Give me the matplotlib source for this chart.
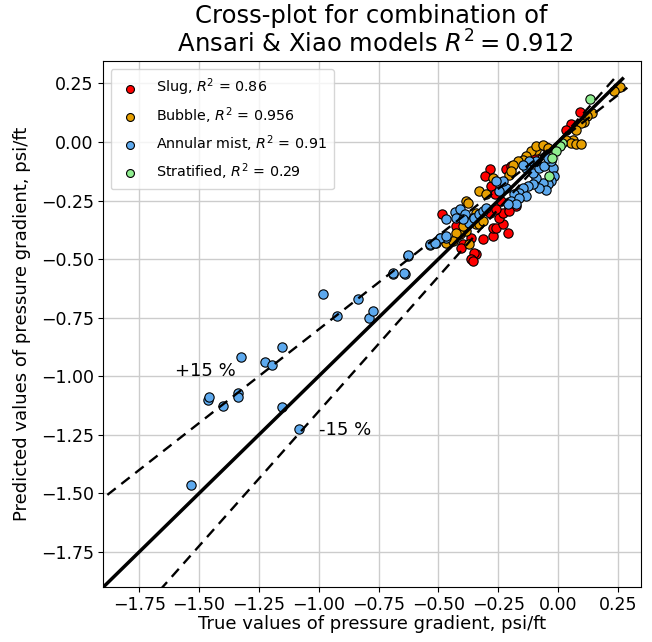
import matplotlib
matplotlib.use("Agg")
import matplotlib.pyplot as plt
import numpy as np

# ---------------- data (true, predicted) ----------------
slug_true = [0.093, 0.054, 0.033, -0.286, -0.303, -0.217, -0.196, -0.279, -0.265, -0.238,
             -0.203, -0.175, -0.483, -0.404, -0.425, -0.386, -0.398, -0.404, -0.363, -0.314,
             -0.273, -0.273, -0.258, -0.231, -0.210, -0.245, -0.231, -0.203, -0.342, -0.349,
             -0.363, -0.356, -0.286, -0.258, -0.05, -0.10]
slug_pred = [0.128, 0.077, 0.053, -0.117, -0.146, -0.117, -0.103, -0.189, -0.224, -0.252,
             -0.281, -0.274, -0.306, -0.373, -0.359, -0.359, -0.437, -0.451, -0.409, -0.415,
             -0.401, -0.366, -0.366, -0.352, -0.387, -0.324, -0.302, -0.295, -0.479, -0.472,
             -0.500, -0.509, -0.302, -0.288, -0.02, -0.05]

bubble_true = [0.248, 0.258, 0.235, 0.144, 0.123, 0.110, 0.096, 0.075, 0.061, 0.033,
               0.054, 0.075, 0.096, -0.092, -0.113, -0.133, -0.148, -0.168, -0.189, -0.203,
               -0.092, -0.064, -0.043, -0.196, -0.273, -0.328, -0.383, -0.300, -0.377, -0.342,
               -0.356, -0.342, -0.383, -0.411, -0.425, -0.398, -0.467, -0.439, -0.370, -0.328,
               -0.314]
bubble_pred = [0.230, 0.237, 0.216, 0.123, 0.109, 0.085, 0.081, 0.053, 0.010, 0.010,
               -0.004, -0.009, -0.009, -0.032, -0.040, -0.061, -0.075, -0.082, -0.096, -0.139,
               -0.018, -0.011, -0.026, -0.125, -0.153, -0.210, -0.252, -0.224, -0.260, -0.302,
               -0.324, -0.352, -0.380, -0.394, -0.387, -0.359, -0.430, -0.423, -0.437, -0.352,
               -0.338]

annular_true = [-1.535, -1.464, -1.460, -1.400, -1.339, -1.339, -1.325, -1.224, -1.196, -1.154,
                -1.154, -1.082, -0.983, -0.925, -0.835, -0.789, -0.775, -0.689, -0.640, -0.627,
                -0.536, -0.508, -0.495, -0.467,
                -0.022, -0.015, -0.029, -0.043, -0.064, -0.050, -0.078, -0.092, -0.106, -0.078,
                -0.057, -0.106, -0.127, -0.148, -0.161, -0.133, -0.182, -0.217, -0.231, -0.258,
                -0.245, -0.196, -0.161, -0.175, -0.210, -0.092, -0.120, -0.133, -0.148, -0.029,
                -0.043,
                -0.432, -0.411, -0.467, -0.425, -0.390, -0.370, -0.349, -0.328, -0.314, -0.300,
                -0.495, -0.467, -0.536, -0.515, -0.627, -0.689, -0.645, -0.398]
annular_pred = [-1.466, -1.100, -1.089, -1.128, -1.071, -1.089, -0.916, -0.940, -0.953, -0.874,
                -1.132, -1.226, -0.649, -0.743, -0.671, -0.753, -0.720, -0.564, -0.564, -0.486,
                -0.440, -0.430, -0.409, -0.409,
                -0.111, -0.146, -0.167, -0.181, -0.174, -0.203, -0.196, -0.153, -0.132, -0.111,
                -0.103, -0.181, -0.189, -0.196, -0.217, -0.231, -0.224, -0.196, -0.167, -0.167,
                -0.210, -0.252, -0.238, -0.266, -0.266, -0.082, -0.082, -0.111, -0.096, -0.082,
                -0.068,
                -0.298, -0.288, -0.330, -0.324, -0.309, -0.345, -0.324, -0.309, -0.295, -0.281,
                -0.409, -0.401, -0.437, -0.430, -0.482, -0.560, -0.560, -0.330]

strat_true = [0.135, 0.017, 0.008, -0.008, -0.023, -0.036]
strat_pred = [0.183, -0.004, -0.015, -0.040, -0.068, -0.146]

labels = ["Slug, $R^2$ = 0.86", "Bubble, $R^2$ = 0.956",
          "Annular mist, $R^2$ = 0.91", "Stratified, $R^2$ = 0.29"]
colors = ["#FF0000", "#E69F00", "#5DA9EE", "#90EE90"]

# reference lines: perfect fit and +/- bands (slopes)
band_upper = 0.80
band_lower = 1.15
line_x = np.array([-2.0, 0.27])
upper_x = np.array([-2.0, 0.29])
lower_x = np.array([-2.0, 0.25])

xlim = (-1.903, 0.346)
ylim = (-1.900, 0.346)
xticks = [-1.75, -1.5, -1.25, -1.0, -0.75, -0.5, -0.25, 0.0, 0.25]
yticks = [0.25, 0.0, -0.25, -0.5, -0.75, -1.0, -1.25, -1.5, -1.75]

# ---------------- plot ----------------
fig = plt.figure(figsize=(6.52, 6.42), dpi=100)
ax = fig.add_axes([0.1575, 0.0857, 0.8252, 0.8193])

series = [(slug_true, slug_pred), (bubble_true, bubble_pred),
          (annular_true, annular_pred), (strat_true, strat_pred)]
for (t, p), lab, c in zip(series, labels, colors):
    ax.scatter(t, p, s=45, c=c, edgecolors="black", linewidths=0.8, label=lab, zorder=3)

ax.plot(line_x, line_x, color="black", lw=2.5, zorder=4)
ax.plot(upper_x, band_upper * upper_x, color="black", lw=1.7, ls=(0, (4.5, 3)), zorder=4)
ax.plot(lower_x, band_lower * lower_x, color="black", lw=1.7, ls=(0, (4.5, 3)), zorder=4)

ax.text(-1.6, -1.0, "+15 %", fontsize=13)
ax.text(-1.0, -1.25, "-15 %", fontsize=13)

ax.set_xlim(*xlim)
ax.set_ylim(*ylim)
ax.set_xticks(xticks)
ax.set_yticks(yticks)
ax.tick_params(labelsize=12.5, pad=3)
ax.grid(True, color="#CCCCCC", lw=1.0)
ax.set_axisbelow(True)
for sp in ax.spines.values():
    sp.set_color("black")

ax.set_xlabel("True values of pressure gradient, psi/ft", fontsize=13, labelpad=1)
ax.set_ylabel("Predicted values of pressure gradient, psi/ft", fontsize=13, labelpad=7)
ax.set_title("Cross-plot for combination of\n Ansari & Xiao models $R^2 = 0.912$",
             fontsize=17.5, linespacing=1.12)

leg = ax.legend(loc="upper left", fontsize=10.3, labelspacing=0.5, borderpad=0.55,
                handlelength=1.6, handletextpad=1.0, markerscale=0.85, borderaxespad=0.55)
leg.set_zorder(5)

fig.savefig("out.png", dpi=100)
